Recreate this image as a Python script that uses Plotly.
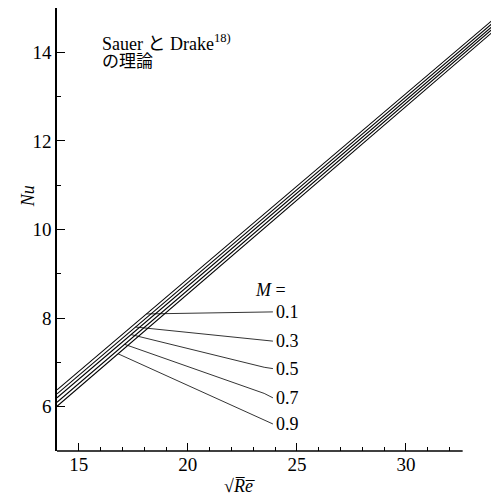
import numpy as np
import plotly.graph_objects as go

# Data
sqrt_re = [14, 34]
mach = ["0.1", "0.3", "0.5", "0.7", "0.9"]
nu_lines = {
    "0.1": [6.38, 14.74],
    "0.3": [6.29, 14.67],
    "0.5": [6.20, 14.60],
    "0.7": [6.10, 14.54],
    "0.9": [6.01, 14.47],
}
# leader lines: start x on the curve, bend point and label position
leader_x0 = [18.1, 17.6, 17.4, 17.1, 16.8]
leader_bend_x = [23.5, 23.5, 23.5, 23.5, 23.5]
leader_bend_y = [8.13, 7.50, 6.89, 6.30, 5.70]
label_x = [23.9, 23.9, 23.9, 23.9, 23.9]
label_y = [8.14, 7.48, 6.86, 6.20, 5.61]

x_major = [15, 20, 25, 30]
x_minor = [v for v in range(14, 33) if v not in x_major]
y_major = [6, 8, 10, 12, 14]
y_minor = [5, 7, 9, 11, 13, 15]

SERIF = "'Liberation Serif', 'DejaVu Serif', serif"
CJK = "'Liberation Serif', 'Noto Sans CJK JP', serif"

fig = go.Figure()
for m in mach:
    fig.add_trace(go.Scatter(x=sqrt_re, y=nu_lines[m], mode="lines",
                             line=dict(color="black", width=1.1),
                             showlegend=False, hoverinfo="skip"))

for i, m in enumerate(mach):
    y0 = float(np.interp(leader_x0[i], sqrt_re, nu_lines[m]))
    fig.add_trace(go.Scatter(x=[leader_x0[i], leader_bend_x[i], label_x[i]],
                             y=[y0, leader_bend_y[i], label_y[i]], mode="lines",
                             line=dict(color="black", width=0.8),
                             showlegend=False, hoverinfo="skip"))
    fig.add_annotation(x=label_x[i], y=label_y[i], text=m, showarrow=False,
                       xanchor="left", yanchor="middle", xshift=1,
                       font=dict(family=SERIF, size=18, color="black"))

fig.add_annotation(x=23.0, y=8.64, text="<i>M</i> =", showarrow=False,
                   xanchor="left", yanchor="middle",
                   font=dict(family=SERIF, size=18, color="black"))

fig.add_annotation(xref="paper", yref="paper", x=0.099, y=0.922,
                   text="Sauer と Drake<sup>18)</sup>", showarrow=False,
                   xanchor="left", yanchor="middle",
                   font=dict(family=CJK, size=18, color="black"))
fig.add_annotation(xref="paper", yref="paper", x=0.099, y=0.880,
                   text="の理論", showarrow=False,
                   xanchor="left", yanchor="middle",
                   font=dict(family=CJK, size=17, color="black"))

fig.add_annotation(xref="paper", yref="paper", x=-0.067, y=0.575,
                   text="<i>Nu</i>", showarrow=False, textangle=-90,
                   xanchor="center", yanchor="middle",
                   font=dict(family=SERIF, size=18, color="black"))
fig.add_annotation(xref="paper", yref="paper", x=0.42, y=-0.079,
                   text="√<i>R\u0305e\u0305</i>", showarrow=False,
                   xanchor="center", yanchor="middle",
                   font=dict(family=SERIF, size=18, color="black"))

# bottom axis line stops short of the plot edge
fig.add_shape(type="line", xref="x", yref="paper", x0=14, x1=32.6, y0=0, y1=0,
              line=dict(color="black", width=1.5))

fig.update_layout(
    width=491, height=495,
    margin=dict(l=57, r=0, t=8, b=44),
    paper_bgcolor="white", plot_bgcolor="white",
    font=dict(family=SERIF, color="black"),
    xaxis=dict(range=[14, 33.9], showgrid=False, zeroline=False, showline=False,
               tickmode="array", tickvals=x_major, ticks="inside", ticklen=8,
               tickcolor="black", tickwidth=1,
               tickfont=dict(family=SERIF, size=19, color="black"),
               minor=dict(tickmode="array", tickvals=x_minor, ticks="inside",
                          ticklen=4, tickcolor="black", showgrid=False)),
    yaxis=dict(range=[5, 15], showgrid=False, zeroline=False, showline=True,
               linecolor="black", linewidth=1.5,
               tickmode="array", tickvals=y_major, ticks="inside", ticklen=8,
               tickcolor="black", tickwidth=1,
               tickfont=dict(family=SERIF, size=19, color="black"),
               minor=dict(tickmode="array", tickvals=y_minor, ticks="inside",
                          ticklen=4, tickcolor="black", showgrid=False)),
)

fig.write_html("out.html")
